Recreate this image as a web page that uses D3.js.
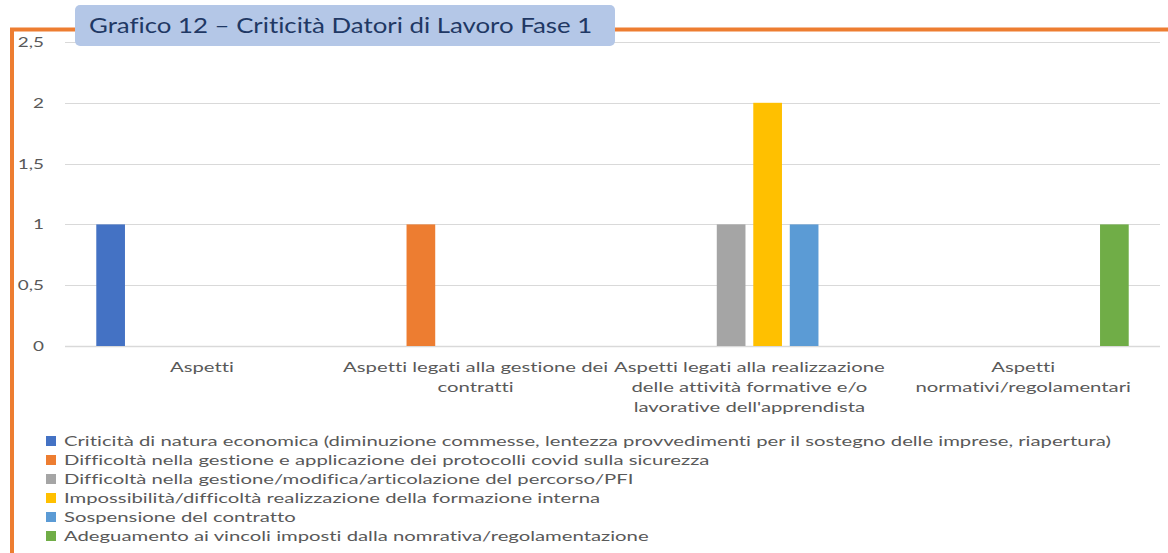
<!DOCTYPE html>
<html>
<head>
<meta charset="utf-8">
<script src="https://cdn.jsdelivr.net/npm/d3@7"></script>
<style>
  body { margin: 0; background: #fff; }
  svg { display: block; font-family: Lato, "Open Sans", sans-serif; font-variant-ligatures: none; }
</style>
</head>
<body>
<svg id="chart" width="1168" height="553"></svg>
<script>
// categories (wrapped label lines)
var categories = ["Aspetti", "Aspetti gestione contratti", "Aspetti realizzazione attività", "Aspetti normativi"];
var categoryLines = [
    ["Aspetti"],
    ["Aspetti legati alla gestione dei", "contratti"],
    ["Aspetti legati alla realizzazione", "delle attività formative e/o", "lavorative dell'apprendista"],
    ["Aspetti", "normativi/regolamentari"]
];
var seriesNames = [
    "Criticità di natura economica (diminuzione commesse, lentezza provvedimenti per il sostegno delle imprese, riapertura)",
    "Difficoltà nella gestione e applicazione dei protocolli covid sulla sicurezza",
    "Difficoltà nella gestione/modifica/articolazione del percorso/PFI",
    "Impossibilità/difficoltà realizzazione della formazione interna",
    "Sospensione del contratto",
    "Adeguamento ai vincoli imposti dalla nomrativa/regolamentazione"
];
var seriesColors = ["#4472c4", "#ed7d31", "#a5a5a5", "#ffc000", "#5b9bd5", "#70ad47"];
// values[series][category]
var values = [
    [1, 0, 0, 0],
    [0, 1, 0, 0],
    [0, 0, 1, 0],
    [0, 0, 2, 0],
    [0, 0, 1, 0],
    [0, 0, 0, 1]
];
var yTicks = [0, 0.5, 1, 1.5, 2, 2.5];
var title = "Grafico 12 – Criticità Datori di Lavoro Fase 1";

var svg = d3.select("#chart");
var plot = { left: 65, right: 1160, top: 42, bottom: 346 };
var stretch = 1.45; // text in the picture is drawn wide

var x0 = d3.scaleBand().domain(categories).range([plot.left, plot.right]);
var x1 = d3.scaleBand().domain(d3.range(seriesNames.length))
    .range([0, x0.bandwidth()]).paddingInner(0.214).paddingOuter(0.857);
var y = d3.scaleLinear().domain([0, 2.5]).range([plot.bottom, plot.top]);

function place(x, yy, sx) {
    return "translate(" + x + "," + yy + ") scale(" + sx + ",1)";
}

// orange frame
svg.append("line").attr("x1", 10).attr("x2", 1168).attr("y1", 29.5).attr("y2", 29.5)
    .attr("stroke", "#ed7d31").attr("stroke-width", 4);
svg.append("line").attr("x1", 12).attr("x2", 12).attr("y1", 28).attr("y2", 553)
    .attr("stroke", "#ed7d31").attr("stroke-width", 4);

// gridlines
svg.append("g").selectAll("line").data(yTicks).enter().append("line")
    .attr("x1", plot.left).attr("x2", plot.right)
    .attr("y1", d => Math.round(y(d)) + 0.5).attr("y2", d => Math.round(y(d)) + 0.5)
    .attr("stroke", "#d9d9d9").attr("stroke-width", d => d === 0 ? 1.5 : 1);

// y tick labels
svg.append("g").selectAll("text").data(yTicks).enter().append("text")
    .attr("transform", d => place(44, y(d), 1.35)).attr("dy", "0.35em")
    .attr("text-anchor", "end").attr("fill", "#595959").style("font-size", "14px")
    .text(d => String(d).replace(".", ","));

// bars
var groups = svg.append("g").selectAll("g").data(seriesNames).enter().append("g")
    .attr("fill", (d, i) => seriesColors[i]);
groups.selectAll("rect")
    .data((d, i) => categories.map((c, j) => ({ s: i, c: c, v: values[i][j] })).filter(e => e.v > 0))
    .enter().append("rect")
    .attr("x", d => x0(d.c) + x1(d.s))
    .attr("width", x1.bandwidth())
    .attr("y", d => y(d.v))
    .attr("height", d => y(0) - y(d.v));

// category labels
var cat = svg.append("g").selectAll("text").data(categories).enter().append("text")
    .attr("transform", d => place(x0(d) + x0.bandwidth() / 2, 372, stretch))
    .attr("text-anchor", "middle").attr("fill", "#595959").style("font-size", "14px");
cat.selectAll("tspan").data((d, i) => categoryLines[i]).enter().append("tspan")
    .attr("x", 0)
    .attr("dy", (d, i) => i === 0 ? 0 : 20)
    .text(d => d);

// legend
var leg = svg.append("g").selectAll("g").data(seriesNames).enter().append("g")
    .attr("transform", (d, i) => "translate(46," + (441 + i * 19) + ")");
leg.append("rect").attr("x", 0).attr("y", -5).attr("width", 10).attr("height", 10)
    .attr("fill", (d, i) => seriesColors[i]);
leg.append("text").attr("transform", place(18, 0, stretch)).attr("dy", "0.35em")
    .attr("fill", "#595959").style("font-size", "14px").text(d => d);

// title box
svg.append("rect").attr("x", 75).attr("y", 5).attr("width", 540).attr("height", 41)
    .attr("rx", 5).attr("fill", "#b4c7e7");
svg.append("text").attr("transform", place(89, 33, 1.23))
    .attr("fill", "#1f3864").style("font-size", "21px").text(title);
</script>
</body>
</html>
